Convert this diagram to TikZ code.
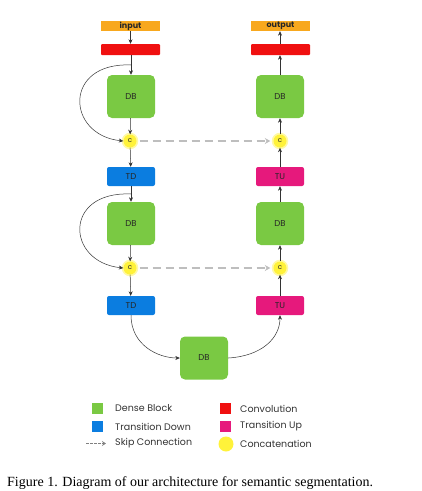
\documentclass[tikz,border=0pt]{standalone}
\usepackage{fontspec}
\setmainfont{Liberation Serif}
\newfontfamily\gothic{Poppins}
\usetikzlibrary{arrows.meta}
\definecolor{dbgreen}{HTML}{7AC943}
\definecolor{tdblue}{HTML}{0B7DE0}
\definecolor{tumag}{HTML}{E6197C}
\definecolor{convred}{HTML}{F01010}
\definecolor{ioorange}{HTML}{F8A81E}
\definecolor{catyellow}{HTML}{FFF23A}
\definecolor{skipgray}{HTML}{BEBEBE}
\tikzset{
  lbl/.style={font=\gothic\fontsize{8.5}{9}\selectfont, text=black!85},
  io/.style={lbl, font=\gothic\bfseries\fontsize{8}{9}\selectfont, fill=ioorange, minimum width=59pt, minimum height=10pt, inner sep=0pt},
  conv/.style={fill=convred, minimum width=59pt, minimum height=11pt, inner sep=0pt, rounded corners=1pt},
  dbbox/.style={lbl, fill=dbgreen, minimum width=48pt, minimum height=43pt, inner sep=0pt, rounded corners=5pt},
  tdbox/.style={lbl, fill=tdblue, minimum width=48pt, minimum height=19pt, inner sep=0pt, rounded corners=2pt},
  tubox/.style={lbl, fill=tumag, minimum width=48pt, minimum height=19pt, inner sep=0pt, rounded corners=2pt},
  cat/.style={circle, lbl, font=\gothic\fontsize{7}{7}\selectfont, fill=catyellow, minimum size=13pt, inner sep=0pt, preaction={draw=catyellow!45, line width=3.5pt}},
  arr/.style={-{Stealth[length=4.5pt,width=4pt]}, line width=0.5pt, draw=black!80},
  skip/.style={-{Stealth[length=5.5pt,width=6pt]}, draw=skipgray, line width=2.5pt, dash pattern=on 8pt off 5pt},
  leg/.style={font=\gothic\fontsize{9.5}{10}\selectfont, text=black!80, anchor=west, inner sep=0pt},
  sq/.style={minimum size=11pt, inner sep=0pt}
}
\begin{document}
\begin{tikzpicture}[x=1pt,y=-1pt]
\useasboundingbox (0,0) rectangle (422,491);
% left column
\node[io] (in) at (130.5,26) {input};
\node[conv] (cl) at (130.5,49.5) {};
\node[dbbox] (db1) at (131,96.5) {DB};
\node[cat] (c1) at (130,141) {c};
\node[tdbox] (td1) at (131,176.5) {TD};
\node[dbbox] (db2) at (131,223.5) {DB};
\node[cat] (c2) at (130,268) {c};
\node[tdbox] (td2) at (131,305.5) {TD};
% bottom
\node[dbbox] (dbb) at (204,358) {DB};
% right column
\node[tubox] (tu2) at (280,305.5) {TU};
\node[cat] (c3) at (280,268) {c};
\node[dbbox] (db3) at (280,223.5) {DB};
\node[tubox] (tu1) at (280,176.5) {TU};
\node[cat] (c4) at (280,141) {c};
\node[dbbox] (db4) at (280,96.5) {DB};
\node[conv] (cr) at (280.5,49.5) {};
\node[io] (out) at (280.5,26) {output};
% left arrows
\draw[arr] (in) -- (cl);
\draw[arr] (cl.south -| db1.north) -- (db1);
\draw[arr] (db1) -- (c1);
\draw[arr] (c1) -- (td1);
\draw[arr] (td1.south -| db2.north) -- (db2);
\draw[arr] (db2) -- (c2);
\draw[arr] (c2) -- (td2);
\coordinate (s1) at (131,65);
\coordinate (s2) at (131,194);
\draw[arr] (s1) .. controls (63,62) and (66,135) .. (c1.west);
\draw[arr] (s2) .. controls (63,191) and (66,262) .. (c2.west);
% bottom arrows
\draw[arr] (td2.south) .. controls (131,345) and (158,358) .. (dbb.west);
\draw[arr] (dbb.east) .. controls (262,356) and (280,338) .. (tu2.south);
% right arrows
\draw[arr] (tu2) -- (c3);
\draw[arr] (c3) -- (db3);
\draw[arr] (db3) -- (tu1);
\draw[arr] (tu1) -- (c4);
\draw[arr] (c4) -- (db4);
\draw[arr] (db4.north) -- (cl.south -| db4.north);
\draw[arr] (cr.north -| db4.north) -- (out.south -| db4.north);
% skips
\draw[skip] (c1.east) ++(3,0) coordinate (k1) (k1) -- ([xshift=-3pt]c4.west);
\draw[skip] (c2.east) ++(3,0) coordinate (k2) (k2) -- ([xshift=-3pt]c3.west);
% legend
\node[sq, fill=dbgreen] (lg1) at (97.5,408.5) {};
\node[leg] (lt1) at (115,408.5) {Dense Block};
\node[sq, fill=tdblue] (lg2) at (97.5,426.5) {};
\node[leg] (lt2) at (115,426.5) {Transition Down};
\coordinate (la) at (86,443.5);
\coordinate (lb) at (106,443.5);
\draw[-{Stealth[length=4pt,width=5pt,open]}, draw=gray, line width=0.8pt, dash pattern=on 2.5pt off 1.5pt] (la) -- (lb);
\node[leg] (lt3) at (115,443.5) {Skip Connection};
\node[sq, fill=convred] (lg4) at (225.5,408.5) {};
\node[leg] (lt4) at (240,408.5) {Convolution};
\node[sq, fill=tumag] (lg5) at (225.5,426.5) {};
\node[leg] (lt5) at (240,426.5) {Transition Up};
\node[circle, fill=catyellow, minimum size=15pt, inner sep=0pt] (lg6) at (226,444) {};
\node[leg] (lt6) at (240,443.5) {Concatenation};
% caption
\node[anchor=base west, inner sep=0pt, font=\fontsize{14}{16}\selectfont] (cap) at (7,486) {Figure 1. Diagram of our architecture for semantic segmentation.};
\end{tikzpicture}
\end{document}
